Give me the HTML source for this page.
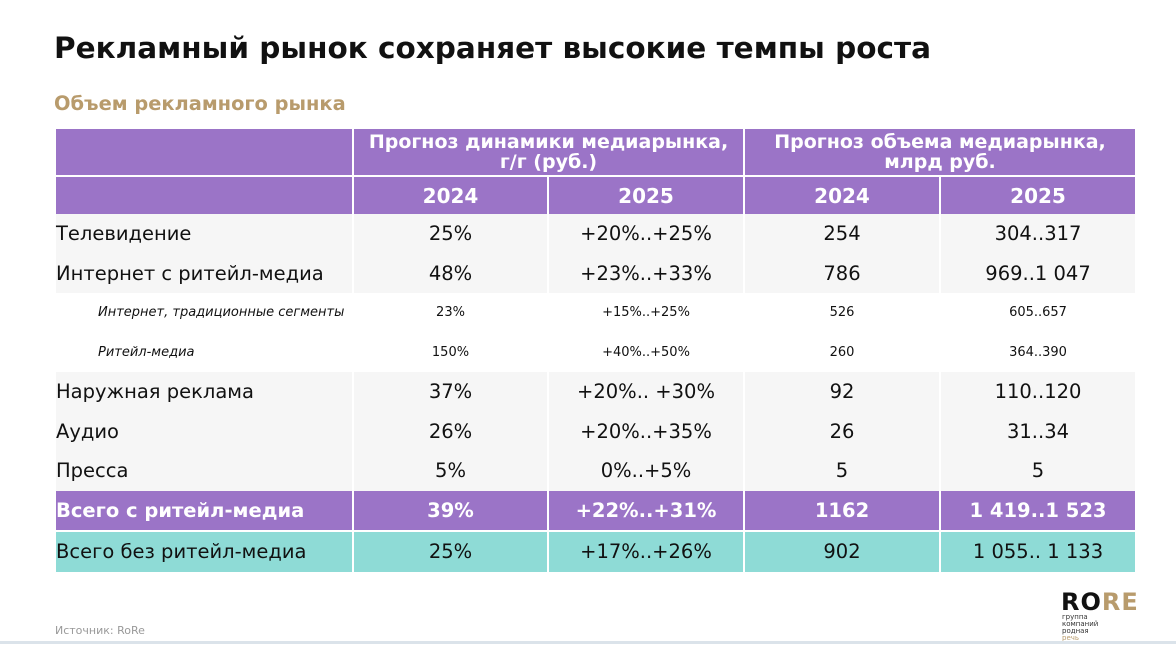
<!DOCTYPE html>
<html><head><meta charset="utf-8"><style>
body{margin:0;width:1176px;height:647px;background:#fff;font-family:"DejaVu Sans","Liberation Sans",sans-serif;position:relative;overflow:hidden}
h1{position:absolute;left:54px;top:31px;margin:0;font-size:29.5px;font-weight:bold;color:#111}
.sub{position:absolute;left:54px;top:92px;font-size:19.4px;font-weight:bold;color:#b89b6c}
table{position:absolute;left:56px;top:129px;border-collapse:collapse;width:1079px;table-layout:fixed}
td{padding:0;text-align:center;font-size:19.5px;color:#111;height:39.5px;border-left:2px solid #fff}
td:first-child{text-align:left;border-left:none}
.h td{background:#9b74c7;color:#fff;font-weight:bold}
.h1 td{height:46px;font-size:19px;line-height:20px;border-bottom:2px solid #fff}
.h2 td{height:37px;font-size:20px}
.g td{background:#f6f6f6}
.s td{font-size:13px;font-style:normal}
.s td:first-child{font-style:italic;padding-left:42px}
.t td{background:#9b74c7;color:#fff;font-weight:bold;border-bottom:2px solid #fff}
.q td{background:#8edbd6}
.src{position:absolute;left:55px;top:624px;font-size:11px;color:#999}
.logo{position:absolute;left:1061px;top:588px;font-size:24px;font-weight:bold;letter-spacing:1px;color:#111}
.logo span{color:#b89b6c}
.lt{position:absolute;left:1062px;top:614px;font-size:7px;line-height:7px;color:#333}
.bl{position:absolute;left:0;top:641px;width:1176px;height:3px;background:#dbe3ea}
</style></head><body>
<h1>Рекламный рынок сохраняет высокие темпы роста</h1>
<div class="sub">Объем рекламного рынка</div>
<table>
<colgroup><col style="width:297px"><col style="width:195px"><col style="width:196px"><col style="width:196px"><col style="width:195px"></colgroup>
<tr class="h h1"><td></td><td colspan="2">Прогноз динамики медиарынка,<br>г/г (руб.)</td><td colspan="2">Прогноз объема медиарынка,<br>млрд руб.</td></tr>
<tr class="h h2"><td></td><td>2024</td><td>2025</td><td>2024</td><td>2025</td></tr>
<tr class="g"><td>Телевидение</td><td>25%</td><td>+20%..+25%</td><td>254</td><td>304..317</td></tr>
<tr class="g"><td>Интернет с ритейл-медиа</td><td>48%</td><td>+23%..+33%</td><td>786</td><td>969..1 047</td></tr>
<tr class="s"><td>Интернет, традиционные сегменты</td><td>23%</td><td>+15%..+25%</td><td>526</td><td>605..657</td></tr>
<tr class="s"><td>Ритейл-медиа</td><td>150%</td><td>+40%..+50%</td><td>260</td><td>364..390</td></tr>
<tr class="g"><td>Наружная реклама</td><td>37%</td><td>+20%.. +30%</td><td>92</td><td>110..120</td></tr>
<tr class="g"><td>Аудио</td><td>26%</td><td>+20%..+35%</td><td>26</td><td>31..34</td></tr>
<tr class="g"><td>Пресса</td><td>5%</td><td>0%..+5%</td><td>5</td><td>5</td></tr>
<tr class="t"><td>Всего с ритейл-медиа</td><td>39%</td><td>+22%..+31%</td><td>1162</td><td>1 419..1 523</td></tr>
<tr class="q"><td>Всего без ритейл-медиа</td><td>25%</td><td>+17%..+26%</td><td>902</td><td>1 055.. 1 133</td></tr>
</table>
<div class="src">Источник: RoRe</div>
<div class="logo">RO<span>RE</span></div>
<div class="lt">группа<br>компаний<br>родная<br><span style="color:#b89b6c">речь</span></div>
<div class="bl"></div>
</body></html>
